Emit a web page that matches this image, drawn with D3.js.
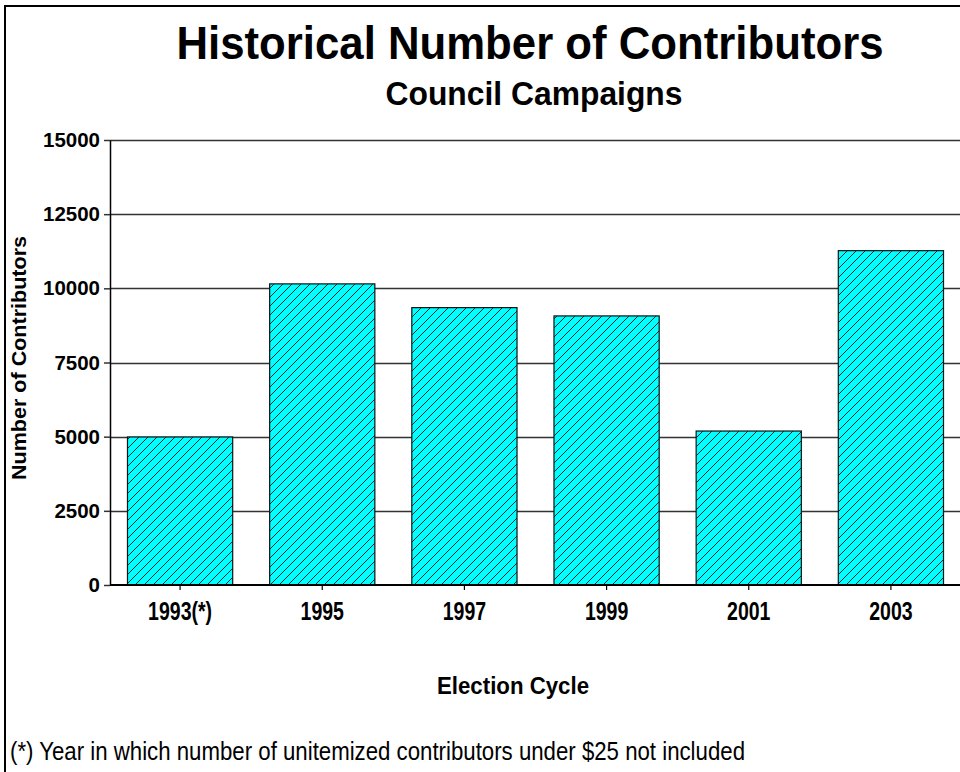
<!DOCTYPE html>
<html>
<head>
<meta charset="utf-8">
<script src="https://cdn.jsdelivr.net/npm/d3@7"></script>
<style>
  html, body { margin: 0; padding: 0; background: #fff; }
  svg { display: block; }
  text { font-family: "Liberation Sans", Arial, sans-serif; fill: #000; }
</style>
</head>
<body>
<svg id="chart" width="960" height="772"></svg>
<script>
// Election cycles and contributor counts
const categories = ["1993(*)", "1995", "1997", "1999", "2001", "2003"];
const contributors = [4990, 10150, 9350, 9070, 5190, 11270];
const yTicks = [0, 2500, 5000, 7500, 10000, 12500, 15000];

const titleText = "Historical Number of Contributors";
const subtitleText = "Council Campaigns";
const yTitleText = "Number of Contributors";
const xTitleText = "Election Cycle";
const footnoteText = "(*) Year in which number of unitemized contributors under $25 not included";

const svg = d3.select("#chart");

// Frame lines along the top and left edges
svg.append("rect").attr("x", 4).attr("y", 5).attr("width", 960).attr("height", 2).attr("fill", "#000");
svg.append("rect").attr("x", 4).attr("y", 5).attr("width", 2).attr("height", 772).attr("fill", "#000");

// Diagonal hatch fill for bars
const defs = svg.append("defs");
const pat = defs.append("pattern")
  .attr("id", "hatch")
  .attr("patternUnits", "userSpaceOnUse")
  .attr("width", 9).attr("height", 9);
pat.append("rect").attr("width", 9).attr("height", 9).attr("fill", "#00FFFF");
pat.append("path")
  .attr("d", "M0,9 L9,0 M-2,2 L2,-2 M7,11 L11,7")
  .attr("stroke", "#0a2a2a").attr("stroke-width", 1);

const x = d3.scaleBand()
  .domain(categories)
  .range([109, 962])
  .paddingInner(0.26)
  .paddingOuter(0.13);

const y = d3.scaleLinear().domain([0, 15000]).range([585, 140]);

// Horizontal gridlines
svg.append("g")
  .selectAll("line")
  .data(yTicks.filter(d => d > 0))
  .join("line")
  .attr("x1", 110).attr("x2", 960)
  .attr("y1", d => Math.round(y(d)) + 0.5)
  .attr("y2", d => Math.round(y(d)) + 0.5)
  .attr("stroke", "#333").attr("stroke-width", 1.5);

// Bars
svg.append("g")
  .selectAll("rect")
  .data(contributors)
  .join("rect")
  .attr("x", (d, i) => x(categories[i]))
  .attr("y", d => y(d))
  .attr("width", x.bandwidth())
  .attr("height", d => y(0) - y(d))
  .attr("fill", "url(#hatch)")
  .attr("stroke", "#111").attr("stroke-width", 1.2);

// Y axis
const yAxis = d3.axisLeft(y).tickValues(yTicks).tickFormat(d3.format("d"))
  .tickSize(6).tickPadding(4).tickSizeOuter(0);
const gy = svg.append("g").attr("transform", "translate(110,0)").call(yAxis);
gy.select(".domain").attr("stroke", "#000").attr("stroke-width", 1.5);
gy.selectAll(".tick line").attr("stroke", "#333").attr("stroke-width", 1.5);
gy.selectAll(".tick text")
  .attr("font-size", 20.5).attr("font-weight", "bold")
  .attr("font-family", "Liberation Sans, Arial, sans-serif")
  .attr("fill", "#000");

// X axis
const xAxis = d3.axisBottom(x).tickSize(5).tickPadding(12).tickSizeOuter(0);
const gx = svg.append("g").attr("transform", "translate(0,585)").call(xAxis);
gx.select(".domain").attr("stroke", "#000").attr("stroke-width", 2).attr("d", "M110,0H960");
gx.selectAll(".tick line").attr("stroke", "#000").attr("stroke-width", 1.2);
gx.selectAll(".tick text")
  .attr("font-size", 25).attr("font-weight", "bold")
  .attr("font-family", "Liberation Sans, Arial, sans-serif")
  .attr("fill", "#000")
  .attr("lengthAdjust", "spacingAndGlyphs")
  .each(function () {
    const w = this.getComputedTextLength();
    d3.select(this).attr("textLength", w * 0.78);
  });

// Titles
svg.append("text")
  .attr("x", 530).attr("y", 59)
  .attr("text-anchor", "middle")
  .attr("font-size", 46).attr("font-weight", "bold")
  .attr("textLength", 707).attr("lengthAdjust", "spacingAndGlyphs")
  .text(titleText);

svg.append("text")
  .attr("x", 534).attr("y", 105)
  .attr("text-anchor", "middle")
  .attr("font-size", 33).attr("font-weight", "bold")
  .attr("textLength", 297).attr("lengthAdjust", "spacingAndGlyphs")
  .text(subtitleText);

svg.append("text")
  .attr("transform", "translate(26,358) rotate(-90)")
  .attr("text-anchor", "middle")
  .attr("font-size", 21).attr("font-weight", "bold")
  .attr("textLength", 244).attr("lengthAdjust", "spacingAndGlyphs")
  .text(yTitleText);

svg.append("text")
  .attr("x", 513).attr("y", 694)
  .attr("text-anchor", "middle")
  .attr("font-size", 23).attr("font-weight", "bold")
  .attr("textLength", 152).attr("lengthAdjust", "spacingAndGlyphs")
  .text(xTitleText);

svg.append("text")
  .attr("x", 10).attr("y", 760)
  .attr("font-size", 25)
  .attr("textLength", 735).attr("lengthAdjust", "spacingAndGlyphs")
  .text(footnoteText);
</script>
</body>
</html>
